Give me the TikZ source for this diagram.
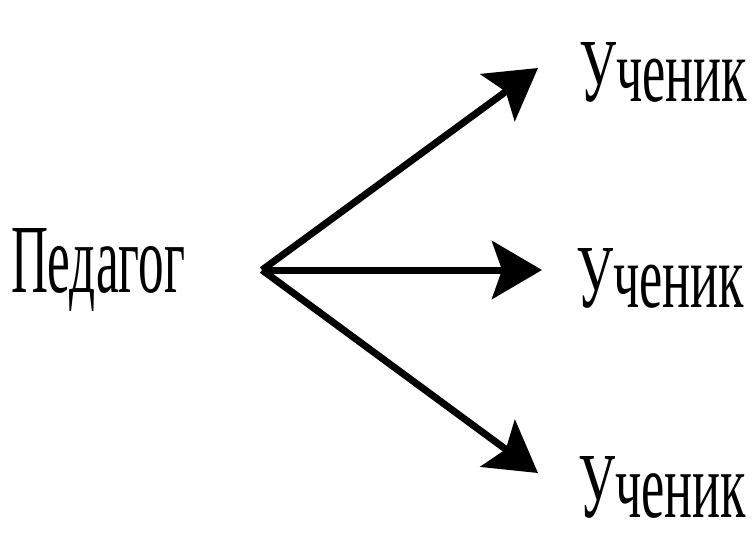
\documentclass[tikz,border=0pt]{standalone}
\usepackage{fontspec}
\setmainfont{Liberation Serif}
\usetikzlibrary{arrows.meta}
\tikzset{
  lbl/.style={anchor=base west, inner sep=0pt, outer sep=0pt},
  arr/.style={line width=7pt, -{Stealth[length=50pt,width=58pt,inset=10pt]}}
}
\newcommand{\lbltext}[3]{\resizebox{#1pt}{#2pt}{\fontsize{90}{100}\selectfont #3}}
\begin{document}
\begin{tikzpicture}[x=1pt,y=-1pt]
  \useasboundingbox (0,0) rectangle (755,559);
  \node[lbl] (ped) at (11,292) {\lbltext{174}{64}{Педагог}};
  \node[lbl] (u1) at (579,102) {\lbltext{168}{59}{Ученик}};
  \node[lbl] (u2) at (576,307) {\lbltext{168}{59}{Ученик}};
  \node[lbl] (u3) at (578,517) {\lbltext{168}{61}{Ученик}};
  \coordinate (o) at (262,270);
  \coordinate (t1) at (538,68);
  \coordinate (t2) at (542,270);
  \coordinate (t3) at (538,473);
  \draw[arr] (o) -- (t1);
  \draw[arr] (o) -- (t2);
  \draw[arr] (o) -- (t3);
\end{tikzpicture}
\end{document}
